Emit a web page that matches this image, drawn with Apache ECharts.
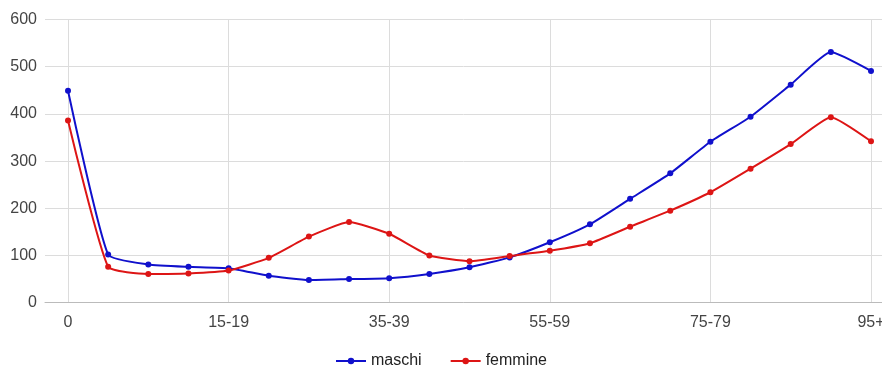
<!DOCTYPE html>
<html><head><meta charset="utf-8">
<script src="https://cdn.jsdelivr.net/npm/echarts@6/dist/echarts.min.js"></script>
<style>html,body{margin:0;padding:0;background:#fff}#c{width:882px;height:367px}</style>
</head><body><div id="c"></div>
<script>
const categories = ['0','1-4','5-9','10-14','15-19','20-24','25-29','30-34','35-39','40-44','45-49','50-54','55-59','60-64','65-69','70-74','75-79','80-84','85-89','90-94','95+'];
const maschi = [449,102,81,76,73,57,48,50,52,61,75,96,128,166,220,274,341,394,462,531,491];
const femmine = [386,76,61,62,68,95,140,171,146,100,88,99,110,126,161,195,234,284,336,393,342];
const yTicks = [0,100,200,300,400,500,600];

const font = '"Liberation Sans", Arial, sans-serif';
const chart = echarts.init(document.getElementById('c'));
chart.setOption({
  animation: false,
  textStyle: {fontFamily: font},
  grid: [
    {left: 45, right: 0, top: 19.5, bottom: 64.3, containLabel: false, outerBoundsMode: 'none'},
    {left: 68, right: 11, top: 19.5, bottom: 64.3, containLabel: false, outerBoundsMode: 'none'}
  ],
  xAxis: [
    {type: 'value', gridIndex: 0, min: 0, max: 1, show: true,
     axisLine: {show: true, lineStyle: {color: '#bbbbbb', width: 1}},
     axisTick: {show: false}, axisLabel: {show: false}, splitLine: {show: false}},
    {type: 'category', gridIndex: 1, data: categories, boundaryGap: false,
     axisLine: {show: false}, axisTick: {show: false},
     axisLabel: {interval: 3, color: '#444', fontSize: 16, margin: 12, fontFamily: font, hideOverlap: false},
     splitLine: {show: true, interval: 3, lineStyle: {color: '#dcdcdc', width: 1}}}
  ],
  yAxis: [
    {type: 'value', gridIndex: 0, min: yTicks[0], max: yTicks[yTicks.length-1], interval: 100,
     axisLine: {show: false}, axisTick: {show: false},
     axisLabel: {color: '#444', fontSize: 16, margin: 8, fontFamily: font},
     splitLine: {lineStyle: {color: '#dcdcdc', width: 1}}},
    {type: 'value', gridIndex: 1, min: yTicks[0], max: yTicks[yTicks.length-1], interval: 100,
     show: false}
  ],
  legend: {
    top: 348, left: 'center', itemWidth: 30, itemHeight: 8, itemGap: 28,
    textStyle: {color: '#222', fontSize: 16, fontFamily: font},
    data: ['maschi','femmine']
  },
  series: [
    {name: 'maschi', type: 'line', xAxisIndex: 1, yAxisIndex: 1, data: maschi,
     smooth: 0.15, symbol: 'circle', symbolSize: 6,
     lineStyle: {color: '#1010cc', width: 2}, itemStyle: {color: '#1010cc'}},
    {name: 'femmine', type: 'line', xAxisIndex: 1, yAxisIndex: 1, data: femmine,
     smooth: 0.15, symbol: 'circle', symbolSize: 6,
     lineStyle: {color: '#dd1515', width: 2}, itemStyle: {color: '#dd1515'}}
  ]
});
</script></body></html>
